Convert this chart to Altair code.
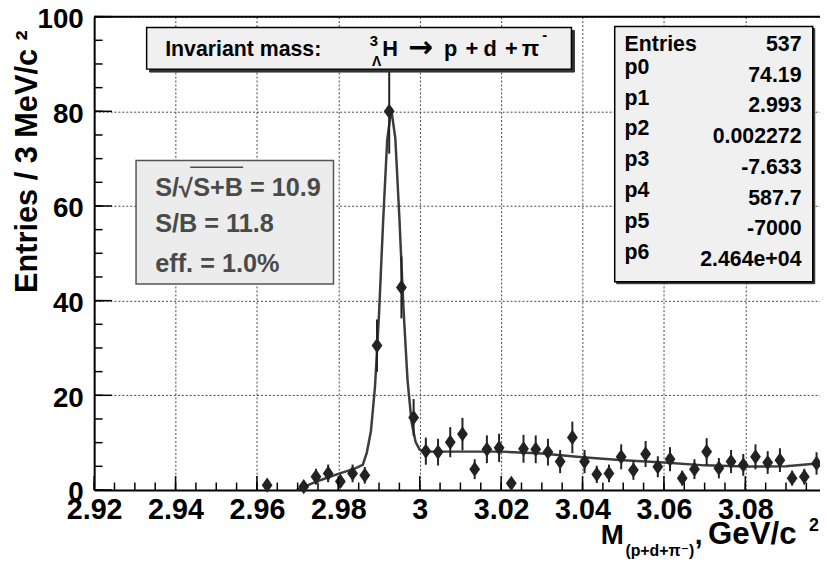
import altair as alt
import pandas as pd

FONT = "Liberation Sans"
FONTS = "Liberation Sans, DejaVu Sans"

# ---- data ----
# bin centres, GeV/c^2, and entries per 3 MeV/c^2
mass = [2.9625, 2.9715, 2.9745, 2.9775, 2.9805, 2.9835, 2.9865, 2.9895, 2.9925, 2.9955, 2.9985,
        3.0015, 3.0045, 3.0075, 3.0105, 3.0135, 3.0165, 3.0195, 3.0225, 3.0255, 3.0285, 3.0315,
        3.0345, 3.0375, 3.0405, 3.0435, 3.0465, 3.0495, 3.0525, 3.0555, 3.0585, 3.0615, 3.0645,
        3.0675, 3.0705, 3.0735, 3.0765, 3.0795, 3.0825, 3.0855, 3.0885, 3.0915, 3.0945, 3.0975]
entries = [1.0, 0.7, 2.8, 3.5, 1.8, 3.5, 3.1, 30.5, 80.0, 42.8, 15.3,
           8.2, 8.0, 10.1, 11.8, 4.4, 8.6, 8.9, 1.4, 8.7, 8.6, 8.0,
           6.0, 11.1, 6.0, 3.3, 3.5, 7.0, 4.2, 7.6, 4.9, 6.5, 2.5,
           4.4, 8.1, 4.6, 6.0, 5.3, 7.0, 5.8, 6.3, 2.5, 2.8, 5.6]

# fitted curve (gaus + pol3)
fit_mass = [2.9698, 2.9750, 2.9800, 2.9840, 2.9860, 2.9870, 2.9880, 2.9890, 2.9900, 2.9910,
            2.9920, 2.9930, 2.9940, 2.9950, 2.9960, 2.9970, 2.9980, 2.9990, 3.0000, 3.0010,
            3.0030, 3.0100, 3.0200, 3.0300, 3.0400, 3.0500, 3.0600, 3.0700, 3.0800, 3.0900, 3.1000]
fit_val = [0.0, 1.9, 3.4, 4.5, 5.3, 7.9, 12.4, 21.7, 37.2, 56.7,
           73.9, 80.5, 74.3, 57.5, 38.4, 23.2, 14.3, 10.1, 8.5, 8.2,
           8.1, 8.1, 8.1, 7.7, 6.9, 6.3, 5.8, 5.2, 4.95, 5.0, 5.8]

x_major = [2.92, 2.94, 2.96, 2.98, 3.00, 3.02, 3.04, 3.06, 3.08]
x_minor = [round(2.92 + 0.005 * i, 3) for i in range(36)]
y_major = [0, 20, 40, 60, 80, 100]
y_minor = [5 * i for i in range(21)]

stat_names = ["Entries", "p0", "p1", "p2", "p3", "p4", "p5", "p6"]
stat_values = ["537", "74.19", "2.993", "0.002272", "-7.633", "587.7", "-7000", "2.464e+04"]

W, H = 733, 478

pts = pd.DataFrame({"m": mass, "v": entries})
fit = pd.DataFrame({"m": fit_mass, "v": fit_val})
one = pd.DataFrame({"k": [0]})

xs = alt.Scale(domain=[2.92, 3.09835], nice=False, zero=False)
ys = alt.Scale(domain=[0, 100], nice=False, zero=True, clamp=True)

xaxis = alt.Axis(values=x_major, format=".2~f", title=None, labelFont=FONT, labelFontWeight="bold",
                 labelFontSize=29, labelColor="black", labelFlush=False, labelOverlap=False,
                 labelPadding=29, labelBaseline="alphabetic", ticks=False, tickSize=0,
                 domainColor="black", domainWidth=2, grid=True, gridDash=[2, 2],
                 gridColor="#444444", gridWidth=1)
yaxis = alt.Axis(values=y_major, format="d", title=None, labelFont=FONT, labelFontWeight="bold",
                 labelFontSize=28, labelColor="black", labelOverlap=False, labelPadding=11,
                 labelOffset=3, ticks=False, tickSize=0, domainColor="black", domainWidth=2,
                 grid=True, gridDash=[2, 2], gridColor="#444444", gridWidth=1)


def X(field="m"):
    return alt.X(f"{field}:Q", scale=xs, axis=xaxis)


def Y(field="v"):
    return alt.Y(f"{field}:Q", scale=ys, axis=yaxis)


def text(s, x, y, size, color="black", align="left", baseline="alphabetic", angle=0, font=FONTS):
    return alt.Chart(one).mark_text(
        text=s, font=font, fontSize=size, fontWeight="bold", color=color,
        align=align, baseline=baseline, angle=angle
    ).encode(x=alt.value(x), y=alt.value(y))


def box(x0, y0, x1, y1, fill, stroke, sw):
    return alt.Chart(one).mark_rect(fill=fill, stroke=stroke, strokeWidth=sw).encode(
        x=alt.value(x0), x2=alt.value(x1), y=alt.value(y0), y2=alt.value(y1))


def hline(x0, x1, y, color, sw):
    return alt.Chart(one).mark_rule(color=color, strokeWidth=sw).encode(
        x=alt.value(x0), x2=alt.value(x1), y=alt.value(y))


curve = alt.Chart(fit).mark_line(color="#3c3c3c", strokeWidth=2.5).encode(x=X(), y=Y())

errs = alt.Chart(pts).transform_calculate(
    lo="datum.v - sqrt(datum.v)", hi="datum.v + sqrt(datum.v)"
).mark_rule(color="#222222", strokeWidth=2).encode(
    x=X(), y=alt.Y("lo:Q", scale=ys, axis=yaxis), y2="hi:Q")

diamond = "M0,-1.2L0.85,0L0,1.2L-0.85,0Z"
points = alt.Chart(pts).mark_point(shape=diamond, filled=True, size=165, color="#222222",
                                   opacity=1).encode(x=X(), y=Y())

tx_major = alt.Chart(pd.DataFrame({"m": x_major})).mark_rule(color="black", strokeWidth=1.5).encode(
    x=X(), y=alt.value(H), y2=alt.value(H - 14))
tx_minor = alt.Chart(pd.DataFrame({"m": x_minor})).mark_rule(color="black", strokeWidth=1.5).encode(
    x=X(), y=alt.value(H), y2=alt.value(H - 7.5))
ty_major = alt.Chart(pd.DataFrame({"v": y_major})).mark_rule(color="black", strokeWidth=1.5).encode(
    y=Y(), x=alt.value(0), x2=alt.value(18))
ty_minor = alt.Chart(pd.DataFrame({"v": y_minor})).mark_rule(color="black", strokeWidth=1.5).encode(
    y=Y(), x=alt.value(0), x2=alt.value(8.5))

frame_top = hline(0, W, 0, "black", 2)

layers = [curve, errs, points, tx_major, tx_minor, ty_major, ty_minor, frame_top]

# ---- title box ----
layers += [
    box(56, 14, 485, 56, "#333333", "#333333", 1),
    box(53, 11, 482, 53, "#f0f0f0", "black", 1.5),
    text("Invariant mass:", 71.7, 39.5, 21.5),
    text("3", 278.3, 29.3, 15),
    text("Λ", 280.5, 49.5, 14),
    text("H", 291, 39.5, 22),
    text("→", 317, 41, 30, font="DejaVu Sans"),
    text("p", 353.3, 39.5, 22),
    text("+", 375, 39.5, 22),
    text("d", 393.3, 39.5, 22),
    text("+", 415, 39.5, 22),
    text("π", 431.7, 39.5, 23),
    text("-", 452.5, 24, 15),
]

# ---- stats box ----
layers += [
    box(527.7, 12, 727.7, 269.7, "#333333", "#333333", 1),
    box(525.7, 10, 725.7, 267.7, "#f0f0f0", "black", 1.5),
]
label_y = [28.2, 52.3, 83, 114, 145, 176, 207.5, 239]
value_y = [28.2, 59.8, 90.5, 121.5, 153, 184, 214.5, 246]
for name, val, ly, vy in zip(stat_names, stat_values, label_y, value_y):
    layers.append(text(name, 535.7, ly, 21.5, baseline="middle"))
    layers.append(text(val, 714.3, vy, 21.5, align="right", baseline="middle"))

# ---- significance box ----
GREY = "#4a4a4a"
layers += [
    box(42.3, 145.3, 241.7, 270, "#ececec", "#555555", 1.5),
    text("S/", 61.7, 181, 25.5, color=GREY),
    text("√", 85.5, 182.5, 26, color=GREY),
    hline(97, 150.5, 152, GREY, 1.5),
    text("S+B = 10.9", 100, 181, 25.5, color=GREY),
    text("S/B = 11.8", 61.7, 217.7, 25.5, color=GREY),
    text("eff. = 1.0%", 61.7, 257.7, 25.5, color=GREY),
]

# ---- axis titles ----
layers += [
    text("Entries / 3 MeV/c ²", -58, 279, 31, angle=270),
    text("M", 511.7, 532.5, 28),
    text("(p+d+π⁻)", 536.5, 545, 16),
    text(",", 606.5, 532.5, 28),
    text("GeV/c", 620, 532.5, 31.5),
    text("2", 722, 519.5, 18),
]

chart = alt.layer(*layers).properties(
    width=W, height=H,
    padding={"left": 87, "top": 6, "right": 0, "bottom": 69},
    autosize=alt.AutoSizeParams(type="none"),
    background="white",
).configure_view(stroke=None)

chart.save("out.html", embed_options={"renderer": "svg", "actions": False})
